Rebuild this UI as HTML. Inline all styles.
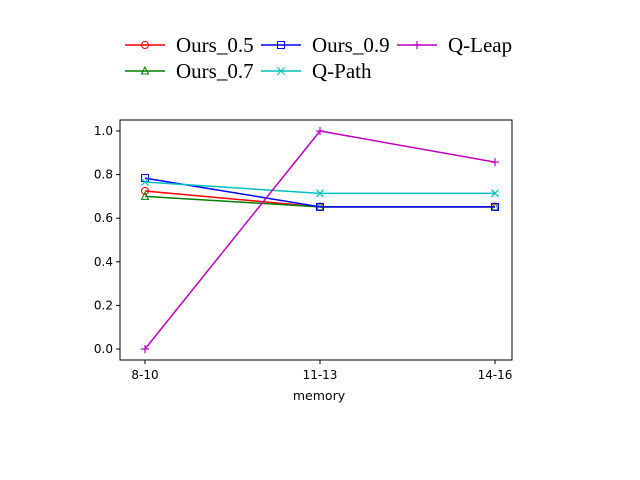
<!DOCTYPE html>
<html><head><meta charset="utf-8"><style>body{margin:0;background:#fff}svg{display:block}</style></head>
<body>
<svg id="chart" width="640" height="480" xmlns="http://www.w3.org/2000/svg">
<rect width="640" height="480" fill="#fff"/>
<g id="legend" font-family="Liberation Serif, serif" font-size="21"></g>
<g id="plot"></g>
<rect x="120" y="120" width="392" height="240" fill="none" stroke="#000" stroke-width="1"/>
<text x="319" y="400" font-family="DejaVu Sans, sans-serif" font-size="12.5" text-anchor="middle">memory</text>
</svg>
<script>
const categories = ["8-10","11-13","14-16"];
const yTicks = [0.0,0.2,0.4,0.6,0.8,1.0];
const seriesNames = ["Ours_0.5","Ours_0.7","Ours_0.9","Q-Path","Q-Leap"];
const ours05 = [0.725,0.652,0.652];
const ours07 = [0.70,0.652,0.652];
const ours09 = [0.784,0.652,0.652];
const qpath = [0.766,0.714,0.714];
const qleap = [0.0,1.0,0.857];
const colors = ["#ff0000","#008000","#0000ff","#00bfbf","#bf00bf"];
const markers = ["circle","triangle","square","x","plus"];
const allSeries = [ours05,ours07,ours09,qpath,qleap];

const NS="http://www.w3.org/2000/svg";
const svg=document.getElementById('chart');
const plot=document.getElementById('plot');
const xs=i=>145+i*175;
const ys=v=>349-v*218;
function el(t,a,p){const e=document.createElementNS(NS,t);for(const k in a)e.setAttribute(k,a[k]);(p||svg).appendChild(e);return e;}
function marker(type,x,y,c,p){
  let m;
  if(type==="circle") m=el('circle',{cx:x,cy:y,r:3.5,fill:'none',stroke:c,'stroke-width':1},p);
  else if(type==="square") m=el('rect',{x:x-3.5,y:y-3.5,width:7,height:7,fill:'none',stroke:c,'stroke-width':1},p);
  else if(type==="triangle") m=el('polygon',{points:`${x},${y-4} ${x-3.5},${y+3} ${x+3.5},${y+3}`,fill:'none',stroke:c,'stroke-width':1},p);
  else if(type==="x") m=el('path',{d:`M${x-3.5},${y-3.5}L${x+3.5},${y+3.5}M${x-3.5},${y+3.5}L${x+3.5},${y-3.5}`,stroke:c,'stroke-width':1.2},p);
  else m=el('path',{d:`M${x-4},${y}L${x+4},${y}M${x},${y-4}L${x},${y+4}`,stroke:c,'stroke-width':1.2},p);
  return m;
}
yTicks.forEach(v=>{
  const t=el('line',{x1:116,x2:120,y1:ys(v),y2:ys(v),stroke:'#000'});
  
  
  const l=el('text',{x:113,y:ys(v)+4,'text-anchor':'end','font-family':'DejaVu Sans, sans-serif','font-size':12});
  l.textContent=v.toFixed(1);
  
  
});
categories.forEach((c,i)=>{
  const t=el('line',{x1:xs(i),x2:xs(i),y1:360,y2:364,stroke:'#000'});
  
  
  const l=el('text',{x:xs(i),y:379,'text-anchor':'middle','font-family':'DejaVu Sans, sans-serif','font-size':12});
  l.textContent=c;
  
  
});
allSeries.forEach((s,k)=>{
  const g=el('g',{},plot);
  
  
  el('polyline',{points:s.map((v,i)=>xs(i)+','+ys(v)).join(' '),fill:'none',stroke:colors[k],'stroke-width':1.5},g);
  s.forEach((v,i)=>{
    const m=marker(markers[k],xs(i),ys(v),colors[k],g);
    
    
  });
});
const lg=document.getElementById('legend');
const pos=[[125,45],[125,71],[261,45],[261,71],[397,45]];
seriesNames.forEach((n,k)=>{
  const [x,y]=pos[k];
  const g=el('g',{},lg);
  
  
  el('line',{x1:x,x2:x+40,y1:y,y2:y,stroke:colors[k],'stroke-width':1.5},g);
  marker(markers[k],x+20,y,colors[k],g);
  const t=el('text',{x:x+51,y:y+7},g);
  t.textContent=n;
});
</script>
</body></html>
